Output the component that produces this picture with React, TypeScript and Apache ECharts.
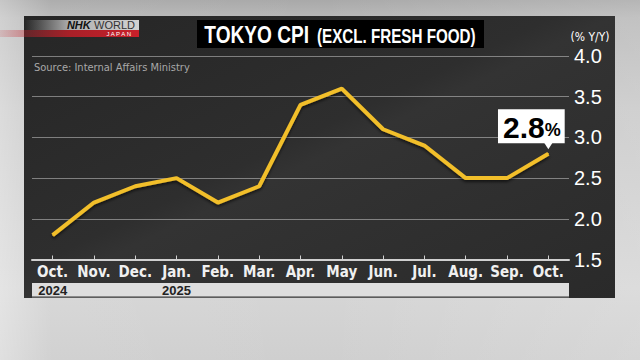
import React, { useEffect, useRef } from "react";
import * as echarts from "echarts";

const months = ["Oct.", "Nov.", "Dec.", "Jan.", "Feb.", "Mar.", "Apr.", "May", "Jun.", "Jul.", "Aug.", "Sep.", "Oct."];
const years = ["2024", "", "", "2025", "", "", "", "", "", "", "", "", ""];
const cpi = [1.8, 2.2, 2.4, 2.5, 2.2, 2.4, 3.4, 3.6, 3.1, 2.9, 2.5, 2.5, 2.8];
const yMin = 1.5;
const yMax = 4.0;
const yStep = 0.5;

const NARROW = "'Liberation Sans Narrow', 'DejaVu Sans Condensed', 'Liberation Sans', sans-serif";
const SANS = "'Liberation Sans', Arial, sans-serif";

export default function App() {
  const ref = useRef<HTMLDivElement>(null);
  useEffect(() => {
    if (!ref.current) return;
    const chart = echarts.init(ref.current, null, { renderer: "svg" });
    const last = cpi.length - 1;
    const seriesData = cpi.map((v, i) =>
      i === last
        ? {
            value: v,
            label: {
              show: true,
              position: "top",
              distance: 10,
              offset: [-17, 0],
              backgroundColor: "#ffffff",
              padding: [3, 4, 1, 5],
              formatter: (p: any) => `{a|${Number(p.value).toFixed(1)}}{b|%}`,
              rich: {
                a: { fontFamily: SANS, fontSize: 30, fontWeight: "bold", color: "#000", lineHeight: 30 },
                b: { fontFamily: SANS, fontSize: 18, fontWeight: "bold", color: "#000", lineHeight: 30, padding: [6, 0, 0, 0] },
              },
            },
          }
        : v
    );
    chart.setOption({
      animation: false,
      backgroundColor: "transparent",
      graphic: [
        {
          type: "rect",
          z: -10,
          shape: { x: 24, y: 16, width: 591, height: 282 },
          style: {
            fill: new echarts.graphic.LinearGradient(0, 0, 1, 1, [
              { offset: 0, color: "#262626" },
              { offset: 0.45, color: "#2e2e2e" },
              { offset: 0.5, color: "#333333" },
              { offset: 1, color: "#2a2a2a" },
            ]),
          },
        },
        {
          type: "rect",
          z: -9,
          shape: { x: 24, y: 20, width: 115, height: 10 },
          style: {
            fill: new echarts.graphic.LinearGradient(0, 0, 1, 0, [
              { offset: 0, color: "rgba(190,190,190,0)" },
              { offset: 0.4, color: "rgba(200,200,200,0.85)" },
              { offset: 1, color: "#d2d2d2" },
            ]),
          },
        },
        {
          type: "rect",
          z: -9,
          shape: { x: 0, y: 30, width: 139, height: 7 },
          style: {
            fill: new echarts.graphic.LinearGradient(0, 0, 1, 0, [
              { offset: 0, color: "rgba(200,40,50,0.15)" },
              { offset: 0.5, color: "rgba(200,30,40,0.8)" },
              { offset: 1, color: "#c8202a" },
            ]),
          },
        },
        {
          type: "text",
          x: 135,
          y: 25,
          style: {
            text: "{n|NHK} {w|WORLD}",
            align: "right",
            verticalAlign: "middle",
            rich: {
              n: { fontFamily: SANS, fontSize: 11, fontWeight: "bold", fontStyle: "italic", fill: "#111" },
              w: { fontFamily: SANS, fontSize: 11, fill: "#333" },
            },
          },
        },
        {
          type: "text",
          x: 131,
          y: 33.5,
          style: { text: "J A P A N", align: "right", verticalAlign: "middle", fontFamily: SANS, fontSize: 6, fill: "#fff" },
        },
        {
          type: "rect",
          shape: { x: 197, y: 20, width: 287, height: 28 },
          style: { fill: "#000" },
        },
        {
          type: "text",
          x: 340,
          y: 35,
          scaleX: 0.78,
          style: {
            text: "{a|TOKYO CPI}{b|(EXCL. FRESH FOOD)}",
            align: "center",
            verticalAlign: "middle",
            rich: {
              a: { fontFamily: SANS, fontSize: 24.5, fontWeight: "bold", fill: "#fff" },
              b: { fontFamily: SANS, fontSize: 19.5, fontWeight: "bold", fill: "#fff", padding: [3, 0, 0, 10] },
            },
          },
        },
        {
          type: "text",
          x: 590,
          y: 37,
          style: { text: "(% Y/Y)", align: "center", verticalAlign: "middle", fontFamily: NARROW, fontSize: 12, fill: "#fff" },
        },
        {
          type: "text",
          x: 34,
          y: 67,
          style: { text: "Source: Internal Affairs Ministry", verticalAlign: "middle", fontFamily: NARROW, fontSize: 11, fill: "#a8a8a8" },
        },
        {
          type: "rect",
          z: -5,
          shape: { x: 32, y: 283, width: 537, height: 13 },
          style: { fill: "#dedede" },
        },
        {
          type: "rect",
          z: -5,
          shape: { x: 32, y: 296, width: 537, height: 1.5 },
          style: { fill: "#8a8a8a" },
        },
      ],
      grid: { left: 32, right: 71, top: 56, bottom: 100.5, containLabel: false },
      xAxis: [
        {
          type: "category",
          data: months,
          boundaryGap: true,
          axisLine: { show: true, lineStyle: { color: "#d0d0d0", width: 2 } },
          axisTick: { show: true, inside: true, length: 4, alignWithLabel: true, lineStyle: { color: "#d0d0d0", width: 1 } },
          axisLabel: { interval: 0, margin: 5, color: "#f0f0f0", fontFamily: NARROW, fontSize: 15, fontWeight: "bold" },
          splitLine: { show: false },
        },
        {
          type: "category",
          data: years,
          position: "bottom",
          offset: 20,
          boundaryGap: true,
          axisLine: { show: false },
          axisTick: { show: false },
          axisLabel: { interval: 0, margin: 4, color: "#222", fontFamily: SANS, fontSize: 13, fontWeight: "bold" },
          splitLine: { show: false },
        },
      ],
      yAxis: {
        type: "value",
        position: "right",
        min: yMin,
        max: yMax,
        interval: yStep,
        axisLine: { show: false },
        axisTick: { show: false },
        axisLabel: { margin: 5, color: "#ffffff", fontFamily: SANS, fontSize: 20, formatter: (v: number) => v.toFixed(1) },
        splitLine: { show: true, lineStyle: { color: "rgba(255,255,255,0.4)", width: 1 } },
      },
      series: [
        {
          type: "line",
          data: seriesData,
          showSymbol: true,
          symbol: "circle",
          symbolSize: 1,
          lineStyle: {
            color: "#F2BF2C",
            width: 4,
            shadowColor: "rgba(0,0,0,0.6)",
            shadowBlur: 3,
            shadowOffsetY: 2,
          },
          itemStyle: { color: "#F2BF2C" },
          markPoint: {
            symbol: "triangle",
            symbolRotate: 180,
            symbolSize: [9, 7],
            symbolOffset: [0, -8],
            itemStyle: { color: "#ffffff" },
            label: { show: false },
            data: [{ coord: [last, cpi[last]] }],
          },
          z: 5,
        },
      ],
    });
    return () => chart.dispose();
  }, []);
  return (
    <div
      style={{
        position: "fixed",
        left: 0,
        top: 0,
        width: 640,
        height: 360,
        background:
          "linear-gradient(180deg, #a9a9a9 0%, #b8b8b8 5%, #c8c8c8 30%, #d6d6d6 80%, #cfcfcf 100%)",
      }}
    >
      <div
        style={{
          position: "absolute",
          left: 0,
          top: 0,
          width: 640,
          height: 360,
          background:
            "linear-gradient(90deg, rgba(255,255,255,0.35) 0%, rgba(255,255,255,0.05) 8%, rgba(255,255,255,0) 50%, rgba(255,255,255,0.15) 100%)",
        }}
      />
      <div ref={ref} style={{ position: "absolute", left: 0, top: 0, width: 640, height: 360 }} />
    </div>
  );
}
